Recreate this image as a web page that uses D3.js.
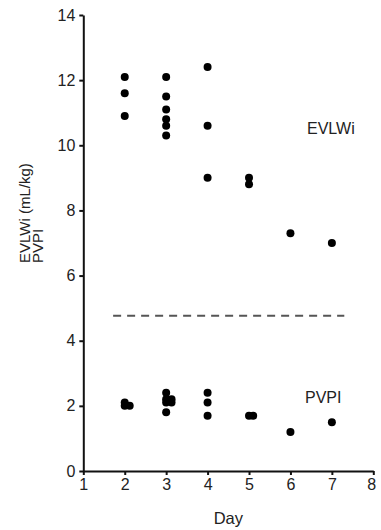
<!DOCTYPE html>
<html><head><meta charset="utf-8">
<script src="https://cdn.jsdelivr.net/npm/d3@7"></script>
<style>body{margin:0;background:#fff}svg{display:block}</style>
</head><body>
<svg id="c" width="381" height="530"></svg>
<script>
const xTicks = [1,2,3,4,5,6,7,8];
const yTicks = [0,2,4,6,8,10,12,14];
const evlwiDay = [2,2,2,3,3,3,3,3,3,4,4,4,5,5,6,7];
const evlwiVal = [12.1,11.6,10.9,12.1,11.5,11.1,10.8,10.6,10.3,12.4,10.6,9.0,9.0,8.8,7.3,7.0];
const pvpiDay = [2,2,2.12,3,3,3,3,3.13,3.13,4,4,4,5,5.1,6,7];
const pvpiVal = [2.1,2.0,2.0,2.4,2.2,2.1,1.8,2.2,2.1,2.4,2.1,1.7,1.7,1.7,1.2,1.5];
const cutoffLine = {x0:1.72, x1:7.3, y:4.77};

const svg = d3.select("#c");
const x = d3.scaleLinear().domain([1,8]).range([83.3,373.3]);
const y = d3.scaleLinear().domain([0,14]).range([471,15]);
const font = "'Liberation Sans', Arial, sans-serif";
const txt = "#222";

const gx = svg.append("g").attr("transform",`translate(0,${y(0)})`)
  .call(d3.axisBottom(x).tickValues(xTicks).tickFormat(d3.format("d")).tickSize(4).tickPadding(4).tickSizeOuter(0));
const gy = svg.append("g").attr("transform",`translate(${x(1)},0)`)
  .call(d3.axisLeft(y).tickValues(yTicks).tickFormat(d3.format("d")).tickSize(4).tickPadding(4).tickSizeOuter(0));
[gx,gy].forEach(g=>{
  g.select(".domain").attr("stroke","#111").attr("stroke-width",2);
  g.selectAll(".tick line").attr("stroke","#111").attr("stroke-width",2);
  g.selectAll(".tick text").attr("fill",txt).style("font-family",font).style("font-size","16px");
});
gx.selectAll(".tick:last-child text").attr("dx","-2");

svg.append("line")
  .attr("x1",x(cutoffLine.x0)).attr("x2",x(cutoffLine.x1))
  .attr("y1",y(cutoffLine.y)).attr("y2",y(cutoffLine.y))
  .attr("stroke","#555").attr("stroke-width",2).attr("stroke-dasharray","8,6");

const dots = (days, vals) => svg.append("g").selectAll("circle")
  .data(days.map((d,i)=>[d,vals[i]])).join("circle")
  .attr("cx",d=>x(d[0])).attr("cy",d=>y(d[1])).attr("r",4).attr("fill","#000");
dots(evlwiDay, evlwiVal);
dots(pvpiDay, pvpiVal);

const t = (s,xx,yy,size,anchor)=>svg.append("text").attr("x",xx).attr("y",yy)
  .attr("text-anchor",anchor||"start").attr("fill",txt)
  .style("font-family",font).style("font-size",size+"px").text(s);
t("EVLWi",307,134,16);
t("PVPI",305,403,16);
t("Day",(x(1)+x(8))/2,524,16.5,"middle");

const yl = svg.append("text").attr("transform","translate(0,263) rotate(-90)")
  .attr("fill",txt).style("font-family",font).style("font-size","15px");
yl.append("tspan").attr("x",0).attr("y",30).text("EVLWi (mL/kg)");
yl.append("tspan").attr("x",0).attr("y",43).text("PVPI");
</script>
</body></html>
